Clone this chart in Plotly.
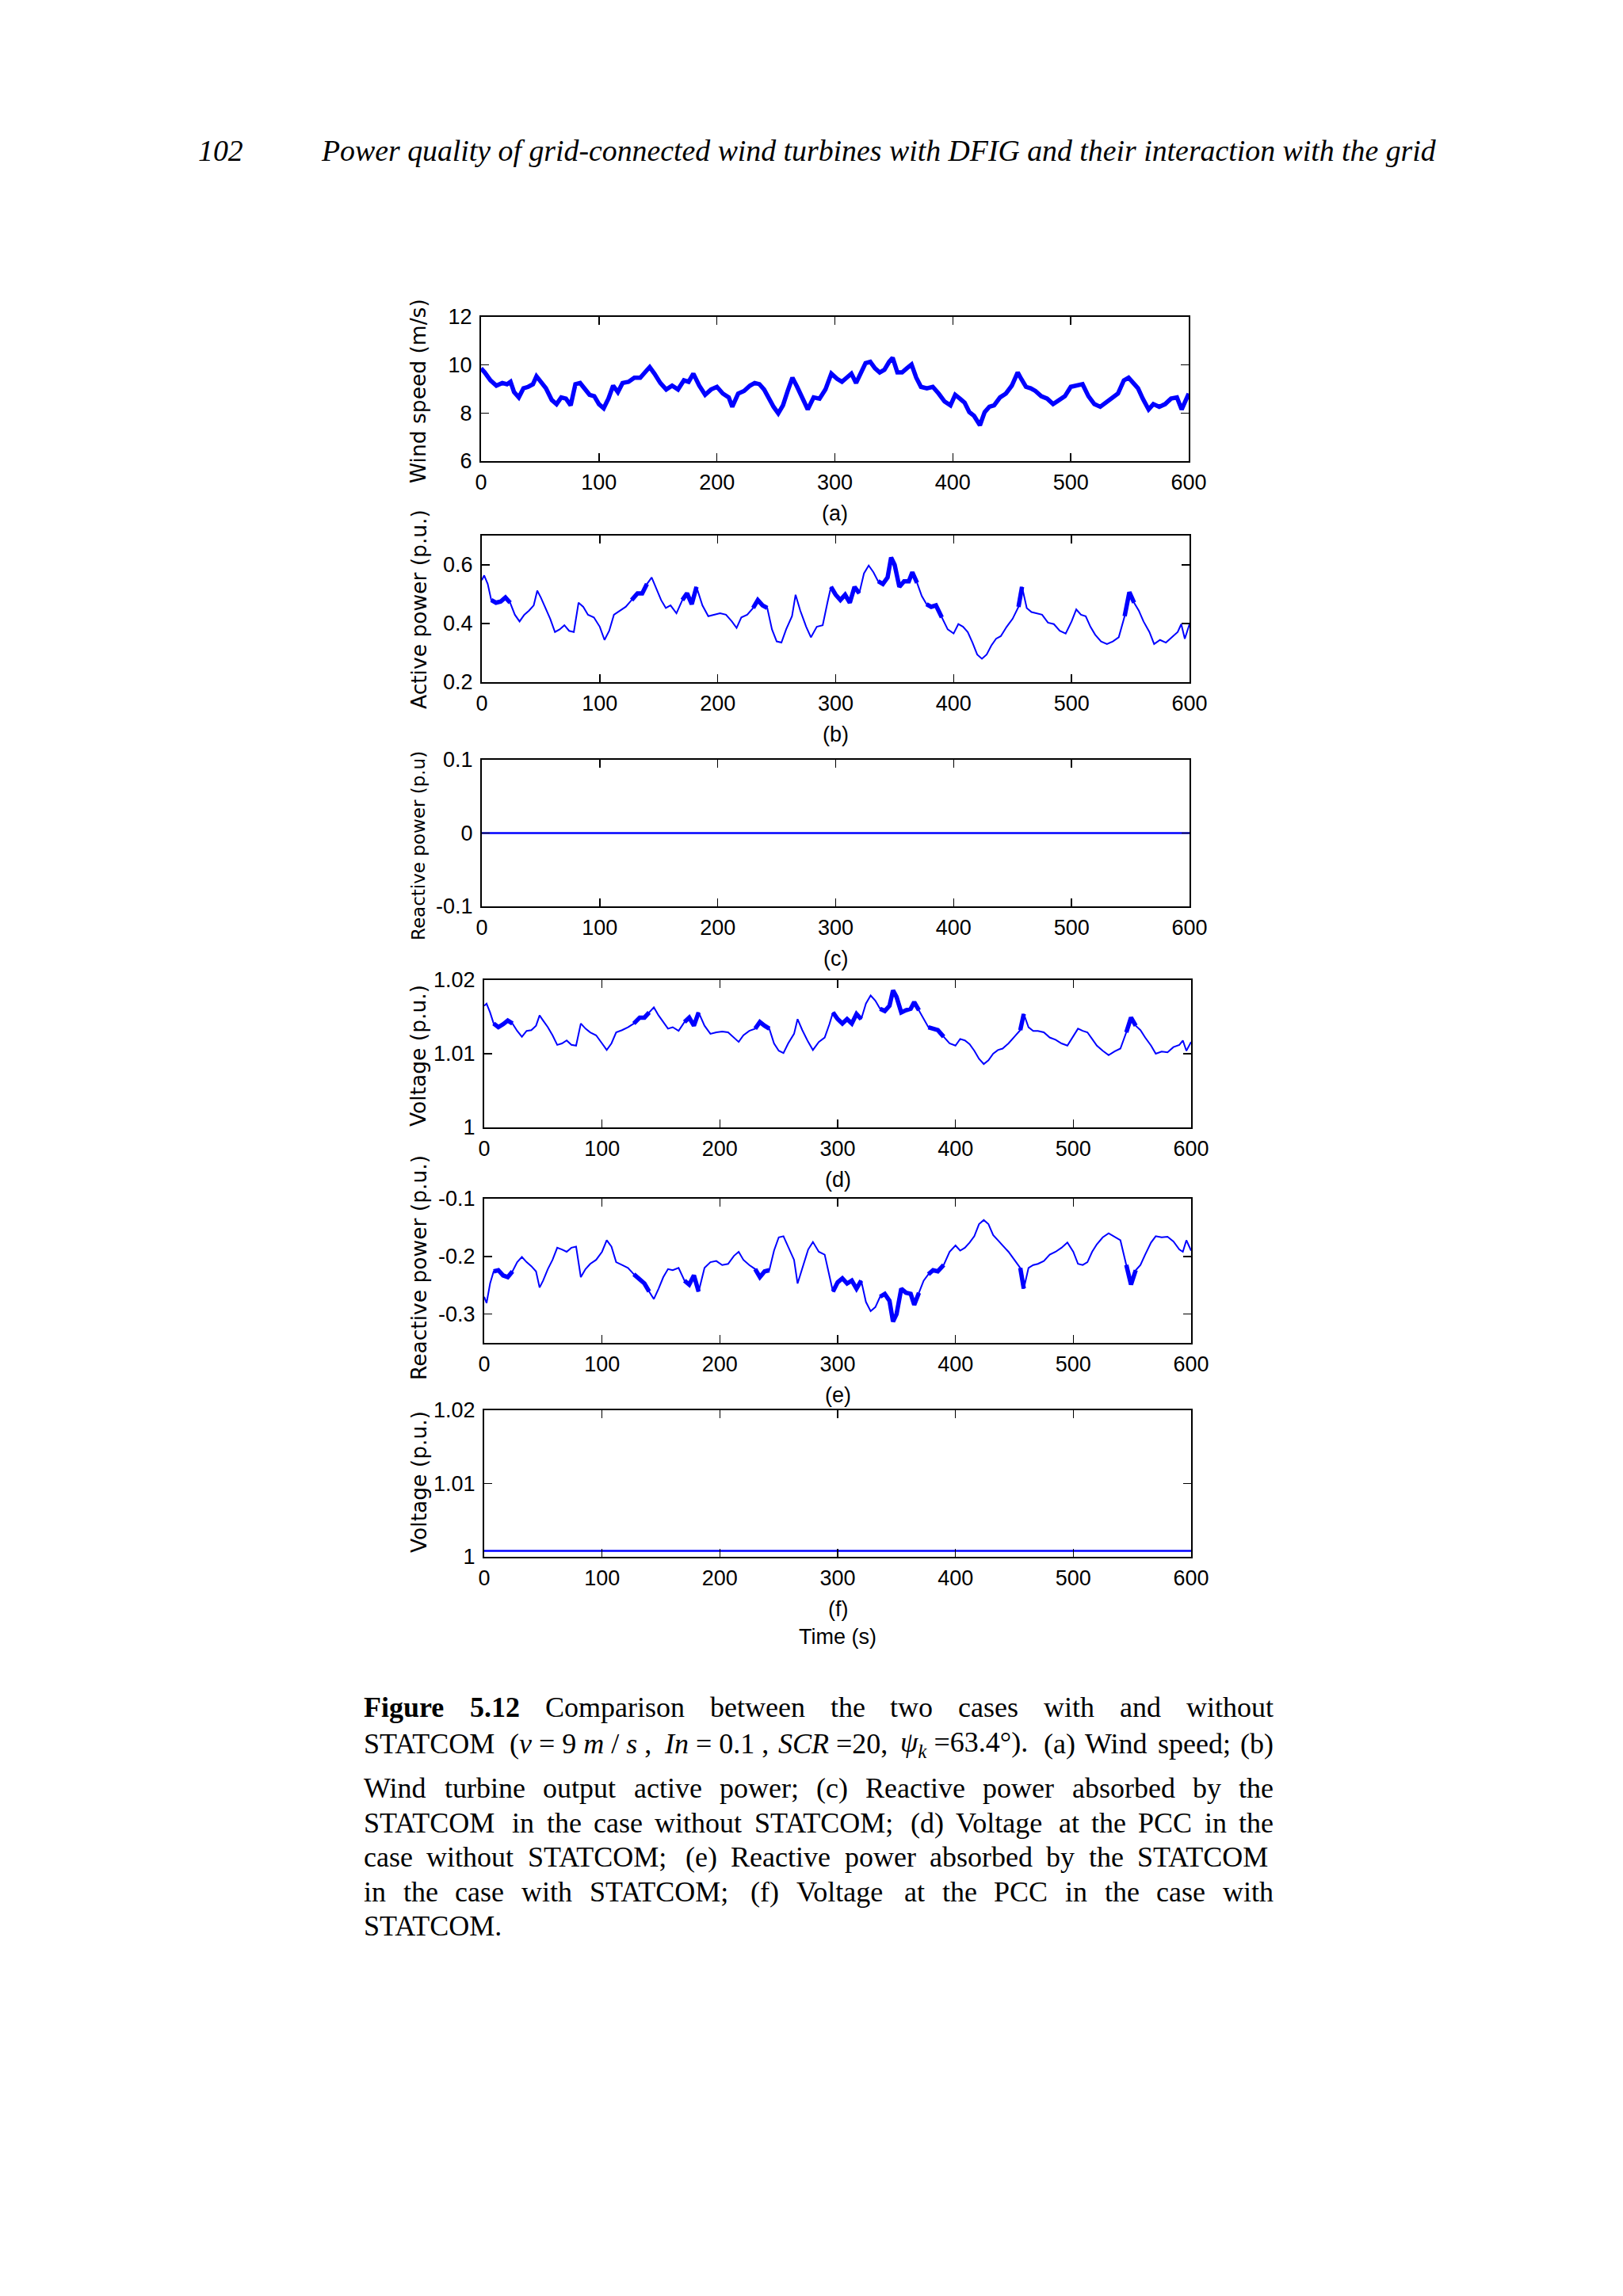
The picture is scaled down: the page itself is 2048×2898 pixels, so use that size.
import plotly.graph_objects as go

# ---------------- data ----------------
t_wind = [0,3,8,13,18,22,25,28,32,36,40,44,47,50,55,60,64,68,72,76,
          80,84,88,92,96,100,104,108,112,116,120,125,130,135,140,143,147,152,157,162,
          167,172,176,180,185,190,195,200,205,210,213,218,223,228,232,236,240,244,248,252,
          256,260,264,268,272,277,282,287,292,297,302,306,310,314,318,322,326,330,334,338,
          342,346,349,353,357,361,365,369,373,378,383,388,393,398,402,406,410,414,418,423,
          427,431,435,440,445,450,455,458,462,466,470,475,480,485,490,495,500,505,510,515,
          520,525,530,535,540,545,549,553,557,561,566,570,575,580,585,590,594,597,600]
wind_speed = [9.86,9.7,9.36,9.14,9.25,9.2,9.3,8.87,8.65,9.03,9.09,9.2,9.53,9.36,9.03,8.54,8.37,8.65,8.6,8.32,
              9.2,9.25,9.03,8.76,8.7,8.37,8.2,8.6,9.14,8.87,9.25,9.3,9.47,9.47,9.75,9.91,9.64,9.25,8.98,9.14,
              8.98,9.36,9.3,9.64,9.14,8.76,8.98,9.09,8.81,8.65,8.26,8.81,8.92,9.14,9.25,9.2,8.98,8.6,8.26,7.99,
              8.32,8.92,9.47,9.09,8.7,8.15,8.65,8.6,8.98,9.64,9.42,9.3,9.47,9.64,9.25,9.69,10.08,10.13,9.86,9.69,
              9.8,10.13,10.3,9.69,9.69,9.86,10.02,9.47,9.09,9.03,9.09,8.81,8.48,8.32,8.76,8.6,8.43,8.04,7.88,7.49,
              8.04,8.26,8.32,8.65,8.81,9.14,9.69,9.42,9.09,9.03,8.92,8.7,8.6,8.37,8.54,8.7,9.09,9.14,9.2,8.7,
              8.37,8.26,8.43,8.6,8.81,9.36,9.47,9.25,9.03,8.6,8.15,8.37,8.26,8.37,8.6,8.65,8.15,8.48,8.81]

t_p = [0,2,5,8,12,16,20,24,28,32,36,40,44,47,50,54,58,62,66,70,
       74,78,82,86,90,95,100,104,108,112,117,122,127,132,136,140,144,148,152,156,
       160,165,170,174,178,182,187,192,197,202,207,212,216,220,225,230,234,238,242,246,
       250,254,258,263,266,270,275,279,284,289,293,296,300,304,308,312,316,320,324,328,
       332,336,340,344,347,350,354,358,362,365,369,373,377,381,385,390,395,400,404,408,
       412,416,420,424,428,432,436,440,445,450,455,458,462,466,470,475,480,485,490,495,
       500,504,508,512,516,520,525,530,535,540,545,549,553,557,561,566,570,575,580,585,
       590,593,596,600]
active_power = [0.548,0.564,0.535,0.48,0.471,0.475,0.489,0.471,0.43,0.407,
                0.43,0.444,0.462,0.512,0.489,0.453,0.416,0.371,0.38,0.394,
                0.375,0.371,0.471,0.457,0.43,0.421,0.389,0.344,0.375,0.43,
                0.444,0.457,0.48,0.503,0.503,0.535,0.557,0.516,0.48,0.453,
                0.462,0.435,0.48,0.503,0.466,0.525,0.462,0.425,0.43,0.435,
                0.43,0.407,0.385,0.421,0.43,0.453,0.48,0.462,0.453,0.38,
                0.339,0.335,0.38,0.425,0.498,0.444,0.389,0.353,0.389,0.394,
                0.471,0.525,0.498,0.48,0.498,0.471,0.525,0.503,0.571,0.598,
                0.575,0.544,0.535,0.557,0.625,0.6,0.525,0.544,0.544,0.575,
                0.539,0.494,0.466,0.457,0.462,0.421,0.38,0.366,0.398,0.389,
                0.371,0.335,0.294,0.28,0.294,0.325,0.348,0.357,0.389,0.416,
                0.457,0.525,0.453,0.439,0.435,0.43,0.403,0.398,0.375,0.366,
                0.407,0.448,0.43,0.425,0.389,0.362,0.339,0.33,0.339,0.353,
                0.425,0.507,0.471,0.444,0.407,0.371,0.33,0.344,0.335,0.353,
                0.371,0.398,0.348,0.398]
voltage_no_statcom = [1.0165,1.0168,1.0156,1.0141,1.0136,1.014,1.0145,1.0141,1.0131,1.0123,
                      1.0131,1.0132,1.0138,1.0152,1.0145,1.0136,1.0125,1.0112,1.0114,1.0118,
                      1.0112,1.0111,1.0141,1.0134,1.0129,1.0125,1.0114,1.0105,1.0114,1.0129,
                      1.0132,1.0136,1.0141,1.0149,1.0149,1.0156,1.0163,1.0152,1.0143,1.0134,
                      1.0136,1.0131,1.0143,1.0149,1.0138,1.0156,1.0138,1.0127,1.0129,1.013,
                      1.0129,1.0122,1.0116,1.0125,1.0131,1.0134,1.0143,1.0138,1.0134,1.0114,
                      1.0104,1.0101,1.0114,1.0127,1.0147,1.0132,1.0116,1.0105,1.0116,1.0122,
                      1.014,1.0156,1.0147,1.0141,1.0147,1.0141,1.0154,1.0147,1.0168,1.0179,
                      1.0172,1.0161,1.0158,1.0165,1.0186,1.0177,1.0156,1.0159,1.0161,1.017,
                      1.0159,1.0147,1.0136,1.0134,1.0132,1.0123,1.0114,1.0111,1.012,1.0118,
                      1.0113,1.0104,1.0093,1.0086,1.0091,1.01,1.0105,1.0107,1.0114,1.0123,
                      1.0132,1.0154,1.0136,1.0131,1.0131,1.0129,1.0122,1.0119,1.0114,1.0111,
                      1.0123,1.0134,1.0131,1.0129,1.012,1.0111,1.0104,1.0098,1.0103,1.0107,
                      1.0129,1.0149,1.0138,1.0132,1.0122,1.0111,1.01,1.0103,1.0102,1.0109,
                      1.0112,1.0118,1.0104,1.0116]
reactive_with_statcom = [-0.27,-0.281,-0.247,-0.226,-0.224,-0.233,-0.236,-0.226,-0.21,-0.201,
                         -0.21,-0.217,-0.226,-0.254,-0.242,-0.222,-0.206,-0.185,-0.188,-0.192,
                         -0.185,-0.183,-0.236,-0.222,-0.213,-0.206,-0.192,-0.172,-0.183,-0.21,
                         -0.215,-0.22,-0.231,-0.24,-0.247,-0.261,-0.274,-0.256,-0.236,-0.222,
                         -0.224,-0.22,-0.242,-0.249,-0.233,-0.261,-0.22,-0.21,-0.208,-0.215,
                         -0.213,-0.199,-0.192,-0.206,-0.215,-0.222,-0.236,-0.226,-0.224,-0.19,
                         -0.167,-0.165,-0.183,-0.206,-0.247,-0.22,-0.188,-0.175,-0.192,-0.197,
                         -0.233,-0.261,-0.245,-0.238,-0.247,-0.242,-0.256,-0.242,-0.279,-0.295,
                         -0.288,-0.27,-0.265,-0.277,-0.313,-0.3,-0.256,-0.263,-0.265,-0.284,
                         -0.263,-0.242,-0.231,-0.224,-0.226,-0.215,-0.192,-0.181,-0.19,-0.185,
                         -0.176,-0.165,-0.144,-0.137,-0.144,-0.163,-0.172,-0.181,-0.192,-0.206,
                         -0.22,-0.256,-0.22,-0.215,-0.213,-0.208,-0.197,-0.192,-0.185,-0.176,
                         -0.192,-0.213,-0.215,-0.21,-0.192,-0.179,-0.167,-0.16,-0.166,-0.172,
                         -0.215,-0.249,-0.224,-0.215,-0.197,-0.176,-0.165,-0.167,-0.166,-0.174,
                         -0.188,-0.192,-0.172,-0.19]
t_flat = [0, 600]
reactive_no_statcom = [0.0, 0.0]
voltage_with_statcom = [1.0008, 1.0008]

# time windows (s) where the recorded signals show dense high-frequency ripple
ripple_windows = [(8, 24), (127, 140), (170, 182), (230, 242), (296, 320),
                  (336, 370), (377, 390), (455, 460), (545, 553)]

x_ticks = [0, 100, 200, 300, 400, 500, 600]
y_labels = ["Wind speed (m/s)", "Active power (p.u.)", "Reactive power (p.u)",
            "Voltage (p.u.)", "Reactive power (p.u.)", "Voltage (p.u.)"]
panel_letters = ["(a)", "(b)", "(c)", "(d)", "(e)", "(f)"]

# ---------------- layout helpers ----------------
W, H = 2048, 2898
def fx(px): return px / W
def fy(py): return 1 - py / H

BLUE = "#0000FF"
TICKFONT = dict(family="Liberation Sans Narrow, Liberation Sans, Arial, sans-serif",
                size=27, color="black")
TITLEFONT = dict(family="DejaVu Sans, Verdana, sans-serif", size=26.5, color="black")

panels = [
    dict(t=t_wind, y=wind_speed, lw=5.5, x0=607, x1=1500, top=400, bot=582, ripple=False,
         yr=[6, 12], tv=[6, 8, 10, 12], tt=["6", "8", "10", "12"], ylab_y=494, ls=26.5),
    dict(t=t_p, y=active_power, lw=2, x0=608, x1=1501, top=676, bot=861, ripple=True,
         yr=[0.2, 0.7], tv=[0.2, 0.4, 0.6], tt=["0.2", "0.4", "0.6"], ylab_y=769, ls=26.5),
    dict(t=t_flat, y=reactive_no_statcom, lw=2.5, x0=608, x1=1501, top=959, bot=1144, ripple=False,
         yr=[-0.1, 0.1], tv=[-0.1, 0, 0.1], tt=["-0.1", "0", "0.1"], ylab_y=1068, ls=23),
    dict(t=t_p, y=voltage_no_statcom, lw=2, x0=611, x1=1503, top=1237, bot=1423, ripple=True,
         yr=[1.0, 1.02], tv=[1.0, 1.01, 1.02], tt=["1", "1.01", "1.02"], ylab_y=1333, ls=26.5),
    dict(t=t_p, y=reactive_with_statcom, lw=2, x0=611, x1=1503, top=1513, bot=1695, ripple=True,
         yr=[-0.35, -0.1], tv=[-0.3, -0.2, -0.1], tt=["-0.3", "-0.2", "-0.1"], ylab_y=1600, ls=26.5),
    dict(t=t_flat, y=voltage_with_statcom, lw=2.5, x0=611, x1=1503, top=1780, bot=1965, ripple=False,
         yr=[1.0, 1.02], tv=[1.0, 1.01, 1.02], tt=["1", "1.01", "1.02"], ylab_y=1871, ls=26.5),
]

fig = go.Figure()
layout = dict(width=W, height=H, margin=dict(l=0, r=0, t=0, b=0, autoexpand=False),
              paper_bgcolor="white", plot_bgcolor="white", showlegend=False)
annotations = []

common = dict(showline=True, linecolor="black", linewidth=2, mirror="ticks",
              ticks="inside", ticklen=10, tickwidth=1.5, tickcolor="black",
              showgrid=False, zeroline=False, tickfont=TICKFONT, fixedrange=True,
              automargin=False)

for i, p in enumerate(panels):
    n = "" if i == 0 else str(i + 1)
    fig.add_trace(go.Scatter(x=p["t"], y=p["y"], mode="lines",
                             line=dict(color=BLUE, width=p["lw"]),
                             xaxis="x" + n, yaxis="y" + n, hoverinfo="skip"))
    if p["ripple"]:
        yr_ = [v if any(a <= t <= b for a, b in ripple_windows) else None
               for t, v in zip(p["t"], p["y"])]
        fig.add_trace(go.Scatter(x=p["t"], y=yr_, mode="lines", connectgaps=False,
                                 line=dict(color=BLUE, width=5.5),
                                 xaxis="x" + n, yaxis="y" + n, hoverinfo="skip"))
    layout["xaxis" + n] = dict(common, domain=[fx(p["x0"]), fx(p["x1"])], anchor="y" + n,
                               range=[0, 600], tickvals=x_ticks,
                               ticktext=[str(v) for v in x_ticks], ticklabelstandoff=2)
    layout["yaxis" + n] = dict(common, domain=[fy(p["bot"]), fy(p["top"])], anchor="x" + n,
                               range=p["yr"], tickvals=p["tv"], ticktext=p["tt"],
                               ticklabelstandoff=4)
    annotations.append(dict(text=y_labels[i], textangle=-90, xref="paper", yref="paper",
                            x=fx(528), y=fy(p["ylab_y"]), xanchor="center", yanchor="middle",
                            showarrow=False, font=dict(TITLEFONT, size=p["ls"])))
    annotations.append(dict(text=panel_letters[i], xref="paper", yref="paper",
                            x=fx((p["x0"] + p["x1"]) / 2), y=fy(p["bot"] + 66),
                            xanchor="center", yanchor="middle", showarrow=False, font=TICKFONT))

annotations.append(dict(text="Time (s)", xref="paper", yref="paper",
                        x=fx(1057), y=fy(2066), xanchor="center", yanchor="middle",
                        showarrow=False, font=TICKFONT))

# ---------------- page header ----------------
SERIF = "Liberation Serif, Times New Roman, serif"
annotations.append(dict(text="<i>102</i>", xref="paper", yref="paper", x=fx(248), y=fy(190),
                        xanchor="left", yanchor="middle", showarrow=False,
                        font=dict(family=SERIF, size=37.8, color="black")))
annotations.append(dict(text="<i>Power quality of grid-connected wind turbines with DFIG and their interaction with the grid</i>",
                        xref="paper", yref="paper", x=fx(403), y=fy(190),
                        xanchor="left", yanchor="middle", showarrow=False,
                        font=dict(family=SERIF, size=37.8, color="black")))

# ---------------- caption (justified word by word) ----------------
TW = {' ': .25, '(': .333, ')': .333, ',': .25, '-': .333, '.': .25, '/': .278, ':': .278,
      ';': .278, '=': .564, '°': .4, 'ψ': .65}
for c in '0123456789': TW[c] = .5
TW.update(dict(A=.722, B=.667, C=.667, D=.722, E=.611, F=.556, G=.722, H=.722, I=.333, J=.389,
               K=.722, L=.611, M=.889, N=.722, O=.722, P=.556, Q=.722, R=.667, S=.556, T=.611,
               U=.722, V=.722, W=.944, X=.722, Y=.722, Z=.611,
               a=.444, b=.5, c=.444, d=.5, e=.444, f=.333, g=.5, h=.5, i=.278, j=.278, k=.5,
               l=.278, m=.778, n=.5, o=.5, p=.5, q=.5, r=.333, s=.389, t=.278, u=.5, v=.5,
               w=.722, x=.5, y=.5, z=.444))
TWB = dict(TW); TWB.update(dict(F=.611, u=.556, r=.444, g=.5))

def width(txt, size, bold=False):
    tab = TWB if bold else TW
    return sum(tab.get(c, .5) for c in txt) * size

CAP_SIZE = 36
CAP_L, CAP_R = 458, 1606
cap_lines = [
    ([("<b>Figure</b>", "Figure", True), ("<b>5.12</b>", "5.12", True)] +
     "Comparison between the two cases with and without".split(), 2155, True),
    (["STATCOM", ("(<i>v</i> = 9 <i>m</i> / <i>s</i> ,", "(v = 9 m / s ,", False),
      ("<i>In</i> = 0.1 ,", "In = 0.1 ,", False), ("<i>SCR</i> =20,", "SCR =20,", False),
      ("<i>ψ<sub>k</sub></i> =63.4°).", "ψk =63.4°).", False), "(a)", "Wind", "speed;", "(b)"], 2201, True),
    ("Wind turbine output active power; (c) Reactive power absorbed by the".split(), 2257, True),
    ("STATCOM in the case without STATCOM; (d) Voltage at the PCC in the".split(), 2301, True),
    ("case without STATCOM; (e) Reactive power absorbed by the STATCOM".split(), 2344, True),
    ("in the case with STATCOM; (f) Voltage at the PCC in the case with".split(), 2388, True),
    (["STATCOM."], 2431, False),
]
for words, yc, justify in cap_lines:
    toks = [(w, w, False) if isinstance(w, str) else w for w in words]
    widths = [width(pl, CAP_SIZE, b) for _, pl, b in toks]
    if justify and len(toks) > 1:
        gap = (CAP_R - CAP_L - sum(widths)) / (len(toks) - 1)
    else:
        gap = width(" ", CAP_SIZE)
    x = CAP_L
    for (html, pl, b), wd in zip(toks, widths):
        annotations.append(dict(text=html, xref="paper", yref="paper", x=fx(x), y=fy(yc),
                                xanchor="left", yanchor="middle", showarrow=False,
                                borderpad=0,
                                font=dict(family=SERIF, size=CAP_SIZE, color="black")))
        x += wd + gap

layout["annotations"] = annotations
fig.update_layout(**layout)
fig.write_html("out.html", config={"displayModeBar": False, "staticPlot": True},
               post_script="document.body.style.margin='0';document.body.style.padding='0';"
                           "document.documentElement.style.overflow='hidden';")
